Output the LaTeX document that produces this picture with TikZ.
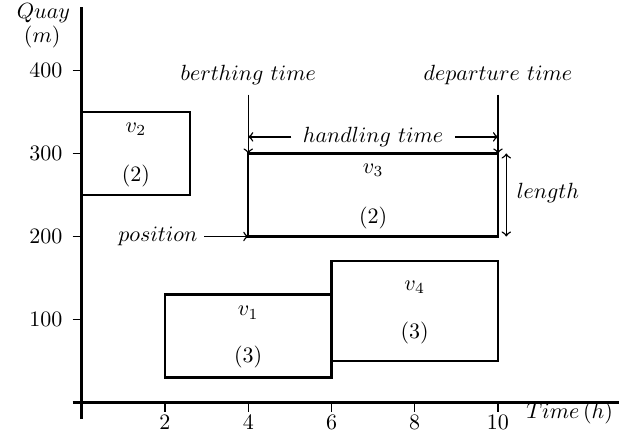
\documentclass[tikz,border=0pt]{standalone}
\begin{document}
\begin{tikzpicture}[x=18.92pt,y=0.3773pt,
  axisline/.style={line width=1.25pt},
  tickline/.style={line width=0.5pt},
  vessel/.style={draw,line width=1pt},
  note/.style={->,line width=0.65pt},
  lbl/.style={inner sep=1pt}]
\useasboundingbox (-1.964,-43.98) rectangle (12.907,484.9);

% axes
\draw[axisline] (0,-20) -- (0,476);
\draw[axisline] (-0.22,0) -- (12.95,0);

% time ticks
\foreach \t in {2,4,6,8,10}{
  \draw[tickline] (\t,0) -- (\t,-11);
  \node[lbl,anchor=north] (xt\t) at (\t,-12) {$\t$};
}
% quay ticks
\foreach \q in {100,200,300,400}{
  \draw[tickline] (-0.22,\q) -- (0,\q);
  \node[lbl,anchor=east] (yt\q) at (-0.4,\q) {$\q$};
}

% axis titles
\node[lbl] (quay) at (-0.92,469) {$Quay$};
\node[lbl] (unitm) at (-0.95,440) {$(m)$};
\node[lbl] (timeh) at (11.72,-13) {$Time\,(h)$};

% vessels
\draw[vessel] (0,250) rectangle (2.6,350);
\node[lbl] (v2) at (1.3,329.5) {$v_2$};
\node[lbl] (n2) at (1.3,273) {$(2)$};

\draw[vessel] (4,200) rectangle (10,300);
\node[lbl] (v3) at (7,280) {$v_3$};
\node[lbl] (n3) at (7,222) {$(2)$};

\draw[vessel] (2,30) rectangle (6,130);
\node[lbl] (v1) at (4,108) {$v_1$};
\node[lbl] (n1) at (4,55) {$(3)$};

\draw[vessel] (6,50) rectangle (10,170);
\node[lbl] (v4) at (8,139) {$v_4$};
\node[lbl] (n4) at (8,84) {$(3)$};

% annotation anchors
\coordinate (bt) at (4,300);
\coordinate (dt) at (10,300);
\coordinate (hl) at (4,320);
\coordinate (hr) at (10,320);
\coordinate (lt) at (10.2,300);
\coordinate (lb) at (10.2,200);
\coordinate (pos) at (4,200);

% annotations
\node[lbl] (berth) at (4,394) {$berthing\ time$};
\node[lbl] (depart) at (10,394) {$departure\ time$};
\draw[note] (4,371) -- (bt);
\draw[note] (10,371) -- (dt);

\node[lbl,inner sep=5pt] (handle) at (7,320) {$handling\ time$};
\draw[note] (handle.west) -- (hl);
\draw[note] (handle.east) -- (hr);

\draw[<->,line width=0.65pt] (lt) -- (lb);
\node[lbl] (len) at (11.2,252) {$length$};

\node[lbl,anchor=east] (position) at (2.84,200) {$position$};
\draw[note] (position.east) ++(0.1,0) -- (pos);
\end{tikzpicture}
\end{document}
